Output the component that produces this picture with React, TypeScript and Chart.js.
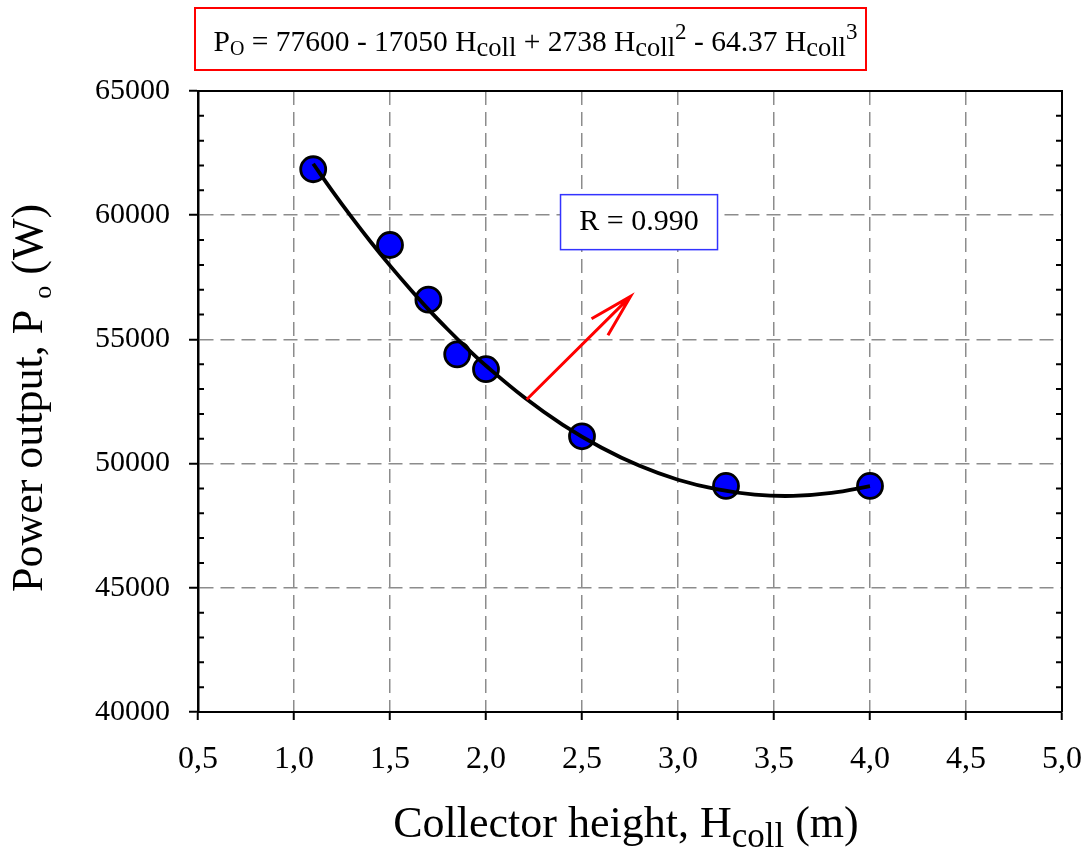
import React, { useEffect, useRef } from 'react';
import { Chart, registerables } from 'chart.js';

Chart.register(...registerables);

const FONT = "'Liberation Serif', 'Times New Roman', serif";

// Axis ticks
const xTickValues = [0.5, 1.0, 1.5, 2.0, 2.5, 3.0, 3.5, 4.0, 4.5, 5.0];
const xTickLabels = ['0,5', '1,0', '1,5', '2,0', '2,5', '3,0', '3,5', '4,0', '4,5', '5,0'];
const yTickValues = [40000, 45000, 50000, 55000, 60000, 65000];
const yTickLabels = ['40000', '45000', '50000', '55000', '60000', '65000'];

// Measured data
const heights = [1.1, 1.5, 1.7, 1.85, 2.0, 2.5, 3.25, 4.0];
const powers = [61850, 58800, 56600, 54400, 53800, 51100, 49100, 49100];

// Fitted curve
const fitHeights = [1.1, 1.2, 1.3, 1.4, 1.5, 1.6, 1.7, 1.8, 1.9, 2.0, 2.2, 2.4, 2.6, 2.8, 3.0, 3.2, 3.4, 3.6, 3.8, 4.0];
const fitPowers = [62070, 60970, 59920, 58920, 57970, 57070, 56210, 55410, 54650, 53940, 52660, 51560, 50650, 49910, 49350, 48970, 48750, 48700, 48820, 49090];

// Annotations
const rLabel = 'R = 0.990';
const rBoxAt = [2.797, 59720];
const arrowFrom = [2.212, 52580];
const arrowTo = [2.753, 56730];

type Part = { t: string; s: number; dy?: number };

const equationParts: Part[] = [
  { t: 'P', s: 29.5 },
  { t: 'O', s: 20, dy: 4 },
  { t: ' = 77600 - 17050 H', s: 29.5 },
  { t: 'coll', s: 26.5, dy: 5 },
  { t: ' + 2738 H', s: 29.5 },
  { t: 'coll', s: 26.5, dy: 5 },
  { t: '2', s: 23, dy: -12 },
  { t: ' - 64.37 H', s: 29.5 },
  { t: 'coll', s: 26.5, dy: 5 },
  { t: '3', s: 23, dy: -12 },
];

const xTitleParts: Part[] = [
  { t: 'Collector height, H', s: 44 },
  { t: 'coll', s: 35, dy: 10 },
  { t: ' (m)', s: 44 },
];

const yTitleParts: Part[] = [
  { t: 'Power output, P ', s: 44 },
  { t: 'o', s: 26, dy: 9 },
  { t: ' (W)', s: 44 },
];

function richWidth(ctx: CanvasRenderingContext2D, parts: Part[]) {
  let w = 0;
  for (const p of parts) {
    ctx.font = `${p.s}px ${FONT}`;
    w += ctx.measureText(p.t).width;
  }
  return w;
}

function drawRich(ctx: CanvasRenderingContext2D, parts: Part[], x: number, y: number) {
  let cx = x;
  for (const p of parts) {
    ctx.font = `${p.s}px ${FONT}`;
    ctx.fillText(p.t, cx, y + (p.dy || 0));
    cx += ctx.measureText(p.t).width;
  }
}

const annotations = {
  id: 'annotations',
  afterDraw(chart: any) {
    const { ctx, chartArea: a } = chart;
    const xs = chart.scales.x;
    const ys = chart.scales.y;
    ctx.save();

    // frame top & right
    ctx.strokeStyle = '#000';
    ctx.lineWidth = 2;
    ctx.setLineDash([]);
    ctx.beginPath();
    ctx.moveTo(a.left, a.top);
    ctx.lineTo(a.right, a.top);
    ctx.lineTo(a.right, a.bottom);
    ctx.stroke();

    // minor ticks inside left and right
    ctx.lineWidth = 2;
    for (let v = ys.min + 1000; v < ys.max; v += 1000) {
      if (v % 5000 === 0) continue;
      const py = ys.getPixelForValue(v);
      ctx.beginPath();
      ctx.moveTo(a.left, py);
      ctx.lineTo(a.left + 6, py);
      ctx.moveTo(a.right, py);
      ctx.lineTo(a.right - 6, py);
      ctx.stroke();
    }

    // arrow
    const x0 = xs.getPixelForValue(arrowFrom[0]);
    const y0 = ys.getPixelForValue(arrowFrom[1]);
    const x1 = xs.getPixelForValue(arrowTo[0]);
    const y1 = ys.getPixelForValue(arrowTo[1]);
    const ang = Math.atan2(y1 - y0, x1 - x0);
    const hl = 45;
    const ha = (15 * Math.PI) / 180;
    ctx.strokeStyle = '#ff0000';
    ctx.lineWidth = 3;
    ctx.lineCap = 'butt';
    ctx.beginPath();
    ctx.moveTo(x0, y0);
    ctx.lineTo(x1, y1);
    ctx.moveTo(x1 - hl * Math.cos(ang - ha), y1 - hl * Math.sin(ang - ha));
    ctx.lineTo(x1, y1);
    ctx.lineTo(x1 - hl * Math.cos(ang + ha), y1 - hl * Math.sin(ang + ha));
    ctx.stroke();

    // R box
    const rx = xs.getPixelForValue(rBoxAt[0]);
    const ry = ys.getPixelForValue(rBoxAt[1]);
    const bw = 157;
    const bh = 55;
    ctx.fillStyle = '#ffffff';
    ctx.fillRect(rx - bw / 2, ry - bh / 2, bw, bh);
    ctx.strokeStyle = '#3333ff';
    ctx.lineWidth = 1.5;
    ctx.strokeRect(rx - bw / 2, ry - bh / 2, bw, bh);
    ctx.fillStyle = '#000';
    ctx.font = `30px ${FONT}`;
    ctx.textAlign = 'center';
    ctx.textBaseline = 'alphabetic';
    ctx.fillText(rLabel, rx, ry + 8);

    // equation box
    ctx.textAlign = 'left';
    ctx.strokeStyle = '#ff0000';
    ctx.lineWidth = 2;
    ctx.strokeRect(195, 8, 671, 62);
    const ew = richWidth(ctx, equationParts);
    drawRich(ctx, equationParts, 535.5 - ew / 2, 51);

    // x title
    const xw = richWidth(ctx, xTitleParts);
    drawRich(ctx, xTitleParts, 626 - xw / 2, 837);

    // y title
    ctx.save();
    ctx.translate(42, 398);
    ctx.rotate(-Math.PI / 2);
    const yw = richWidth(ctx, yTitleParts);
    drawRich(ctx, yTitleParts, -yw / 2, 0);
    ctx.restore();

    ctx.restore();
  },
};

export default function App() {
  const canvasRef = useRef<HTMLCanvasElement | null>(null);

  useEffect(() => {
    if (!canvasRef.current) return;
    const chart = new Chart(canvasRef.current, {
      type: 'scatter',
      data: {
        datasets: [
          {
            label: 'fit',
            data: fitHeights.map((h, i) => ({ x: h, y: fitPowers[i] })),
            showLine: true,
            borderColor: '#000',
            borderWidth: 3.8,
            pointRadius: 0,
            tension: 0.4,
            fill: false,
          },
          {
            label: 'data',
            data: heights.map((h, i) => ({ x: h, y: powers[i] })),
            showLine: false,
            pointRadius: 12.5,
            pointBackgroundColor: '#0000ff',
            pointBorderColor: '#000',
            pointBorderWidth: 2.8,
          },
        ],
      },
      options: {
        responsive: false,
        animation: false,
        layout: { padding: { top: 91, right: 24, left: 0, bottom: 0 } },
        plugins: { legend: { display: false }, tooltip: { enabled: false } },
        scales: {
          x: {
            type: 'linear',
            min: 0.5,
            max: 5.0,
            afterBuildTicks: (s: any) => {
              s.ticks = xTickValues.map((v) => ({ value: v }));
            },
            afterFit: (s: any) => {
              s.height = 138;
              s.paddingLeft = 0;
              s.paddingRight = 0;
            },
            ticks: {
              callback: (_v: any, i: number) => xTickLabels[i],
              font: { family: FONT, size: 32 },
              color: '#000',
              padding: 20,
              maxRotation: 0,
              autoSkip: false,
            },
            grid: {
              color: '#8c8c8c',
              lineWidth: 1.5,
              tickColor: '#000',
              tickLength: 8,
              tickWidth: 2,
              tickBorderDash: [],
            },
            border: { color: '#000', width: 2, dash: [14, 7] },
          },
          y: {
            type: 'linear',
            min: 40000,
            max: 65000,
            afterBuildTicks: (s: any) => {
              s.ticks = yTickValues.map((v) => ({ value: v }));
            },
            afterFit: (s: any) => {
              s.width = 198;
              s.paddingTop = 0;
              s.paddingBottom = 0;
            },
            ticks: {
              callback: (_v: any, i: number) => yTickLabels[i],
              font: { family: FONT, size: 30 },
              color: '#000',
              padding: 19,
              autoSkip: false,
            },
            grid: {
              color: '#8c8c8c',
              lineWidth: 1.5,
              tickColor: '#000',
              tickLength: 9,
              tickWidth: 2,
              tickBorderDash: [],
            },
            border: { color: '#000', width: 2.5, dash: [14, 7] },
          },
        },
      },
      plugins: [annotations],
    } as any);
    return () => chart.destroy();
  }, []);

  return (
    <div style={{ position: 'absolute', left: 0, top: 0, width: 1086, height: 850, background: '#fff' }}>
      <canvas ref={canvasRef} width={1086} height={850} style={{ display: 'block' }} />
    </div>
  );
}
